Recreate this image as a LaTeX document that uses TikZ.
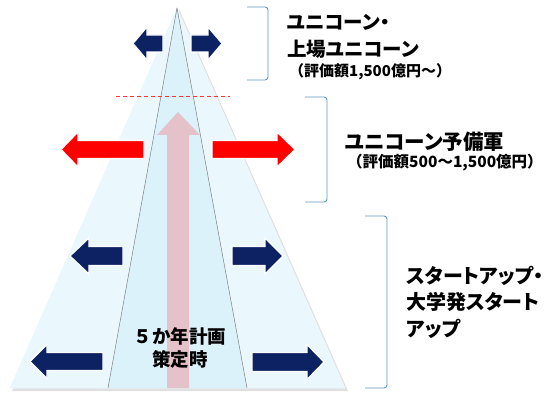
\documentclass[tikz,border=0pt]{standalone}
\usepackage{fontspec}
\setmainfont{Noto Sans CJK JP}
\newfontfamily\jpp{Noto Sans CJK JP}[RawFeature=+palt]
\definecolor{navy}{HTML}{0C2262}
\definecolor{outerbg}{HTML}{EAF8FD}
\definecolor{innerbg}{HTML}{DBF2FA}
\definecolor{pinkar}{HTML}{E5C1C9}
\definecolor{brk}{HTML}{5B9BBF}
\newcommand\hArrow[7]{%
  \fill[#7,draw=white,line width=1.2pt,line join=miter]
    (#1,#4) -- (#2,{#4-#5}) -- (#2,{#4-#6}) -- (#3,{#4-#6}) -- (#3,{#4+#6})
    -- (#2,{#4+#6}) -- (#2,{#4+#5}) -- cycle;}
\tikzset{
  bracket/.style={draw=brk,line width=0.9pt,rounded corners=3pt},
  lbl/.style={anchor=west,inner sep=0pt,align=left},
}
\begin{document}
\begin{tikzpicture}[x=1pt,y=-1pt]
\useasboundingbox (0,0) rectangle (551,395);
% shadow
\fill[black,opacity=0.12] (179,9) -- (348,391) -- (12,391) -- cycle;
% outer triangle
\fill[outerbg,draw=white!80!cyan!40,line width=0.6pt] (177,8) -- (345,388) -- (10,388) -- cycle;
% inner band
\fill[innerbg] (177,8) -- (247,388) -- (108,388) -- cycle;
\draw[gray,line width=0.5pt] (177,8) -- (108,388);
\draw[gray,line width=0.5pt] (177,8) -- (247,388);
% pink arrow
\fill[pinkar] (178,112) -- (200,135) -- (189,135) -- (189,388) -- (167,388) -- (167,135) -- (157,135) -- cycle;
% dashed line
\draw[red!80,line width=1pt,dash pattern=on 4pt off 3pt] (116,97) -- (230,97);
% arrows
\hArrow{133}{147}{163}{43.5}{16.5}{8.5}{navy}
\hArrow{222}{208}{191}{43.5}{16.5}{8.5}{navy}
\hArrow{61}{78}{144}{149.5}{17.5}{9}{red}
\hArrow{295}{277}{212}{149.5}{17.5}{9}{red}
\hArrow{70}{89}{123}{256}{18}{9.5}{navy}
\hArrow{283}{265}{232}{256}{18}{9.5}{navy}
\hArrow{30}{47}{103}{361.5}{17}{9}{navy}
\hArrow{324}{307}{252}{362}{17.5}{9.5}{navy}
% brackets
\draw[bracket] (247,7) -- (268,7) -- (268,80) -- (247,80);
\draw[bracket] (305,97) -- (327,97) -- (327,202) -- (305,202);
\draw[bracket] (365,216) -- (387,216) -- (387,388) -- (365,388);
% labels
\node[lbl,font=\jpp\bfseries\fontsize{19.5}{27}\selectfont] (t1) at (287,36) {ユニコーン・\\上場ユニコーン};
\node[lbl,font=\bfseries\fontsize{15}{16}\selectfont] (t1b) at (289,72) {（評価額1,500億円～）};
\node[lbl,font=\jpp\bfseries\fontsize{20.5}{24}\selectfont] (t2) at (345,142) {ユニコーン予備軍};
\node[lbl,font=\bfseries\fontsize{15.5}{16}\selectfont] (t2b) at (347,163) {（評価額500～1,500億円）};
\node[lbl,font=\jpp\bfseries\fontsize{20}{26.5}\selectfont] (t3) at (406,302) {スタートアップ・\\大学発スタート\\アップ};
\node[font=\bfseries\fontsize{18.5}{23}\selectfont,align=center,inner sep=0pt] (t4) at (180,348) {５か年計画\\策定時};
\end{tikzpicture}
\end{document}
